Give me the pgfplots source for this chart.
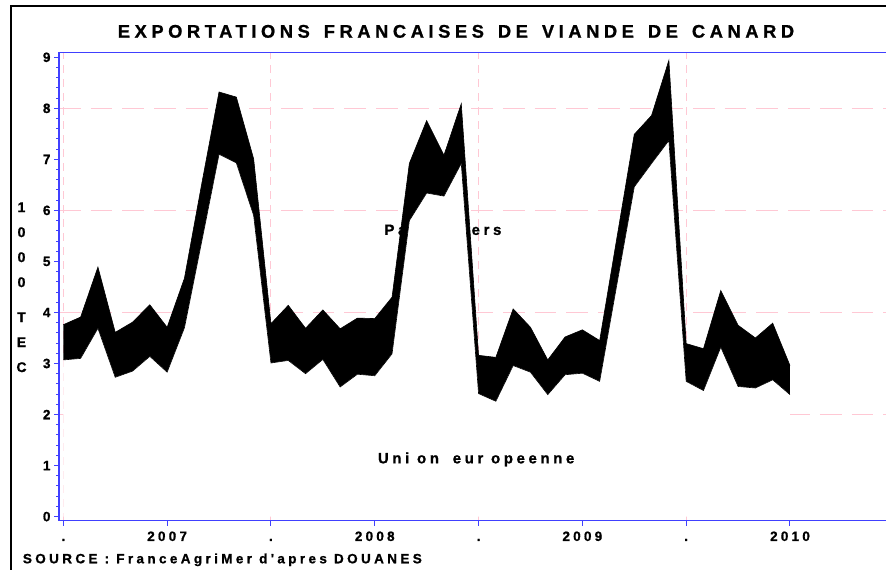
\documentclass[border=0pt]{standalone}
\usepackage{fontspec}
\setmainfont{Liberation Sans}
\newfontfamily\sastitle{Liberation Sans Bold}[LetterSpace=25,FakeBold=1]
\newfontfamily\sas{Liberation Sans Bold}[LetterSpace=24,FakeBold=1]
\usepackage{pgfplots}
\pgfplotsset{compat=1.18}
\usepackage{pgfplotstable}
\usepgfplotslibrary{fillbetween}
\definecolor{axisblue}{RGB}{64,64,255}
\definecolor{gridpink}{RGB}{255,200,212}

\pgfplotstableread{
i lo hi
0 3.07 3.76
1 3.10 3.91
2 3.69 4.89
3 2.73 3.61
4 2.85 3.81
5 3.14 4.15
6 2.83 3.71
7 3.70 4.67
8 5.39 6.52
9 7.10 8.32
10 6.93 8.22
11 5.90 7.01
12 3.01 3.78
13 3.06 4.14
14 2.80 3.69
15 3.08 4.05
16 2.54 3.68
17 2.79 3.89
18 2.76 3.88
19 3.19 4.30
20 5.80 6.92
21 6.34 7.76
22 6.28 7.08
23 6.92 8.09
24 2.41 3.16
25 2.26 3.12
26 2.96 4.07
27 2.83 3.71
28 2.39 3.07
29 2.78 3.52
30 2.81 3.66
31 2.65 3.45
32 4.56 5.47
33 6.46 7.49
34 6.92 7.86
35 7.37 8.94
36 2.65 3.39
37 2.47 3.29
38 3.32 4.43
39 2.55 3.75
40 2.52 3.50
41 2.68 3.79
42 2.39 2.96
}\duck

\begin{document}
\begin{tikzpicture}
\draw[line width=2pt] (11pt,-20pt) -- (11pt,564.3pt) -- (920pt,564.3pt);
\node[anchor=base, inner sep=0pt, font=\sastitle\fontsize{18.3}{20}\selectfont] at (456pt,532.3pt) {EXPORTATIONS\hspace{14pt}FRANCAISES\hspace{14pt}DE\hspace{14pt}VIANDE\hspace{14pt}DE\hspace{14pt}CANARD};
\node[anchor=base west, inner sep=0pt, font=\sas\fontsize{13.5}{15}\selectfont\addfontfeature{LetterSpace=25}] at (22.7pt,6.7pt) {SOURCE : FranceAgriMer d'apres DOUANES};
\node[align=center, inner sep=0pt, font=\sas\fontsize{14}{25}\selectfont] at (21.5pt,282.7pt) {1\\0\\0\\0\\[10pt]T\\E\\C};
\begin{axis}[name=ax, at={(59pt,49.3pt)}, anchor=south west, scale only axis,
  width=827pt, height=468.2pt,
  xmin=-0.25, xmax=47.55, ymin=-0.08, ymax=9.094,
  axis line style={draw=none},
  xtick={0,6,...,42}, xticklabels={.,2007,.,2008,.,2009,.,2010},
  ytick={0,...,9}, minor y tick num=4,
  xtick pos=bottom, ytick pos=left, tick align=outside,
  major tick length=5pt, minor tick length=3pt,
  tick style={axisblue, line width=1pt},
  extra x ticks={0,12,24,36}, extra x tick labels={},
  extra x tick style={major tick length=0pt, xmajorgrids=true,
    major grid style={gridpink, line width=1pt, dash pattern=on 8pt off 6pt}},
  extra y ticks={2,4,6,8}, extra y tick labels={},
  extra y tick style={major tick length=0pt, ymajorgrids=true,
    major grid style={gridpink, line width=1pt, dash pattern=on 21.7pt off 10pt}},
  ticklabel style={font=\sas\fontsize{13.5}{15}\selectfont},
  xticklabel style={text height=9.7pt, text depth=0pt, yshift=-2pt},
  /pgf/number format/assume math mode=true,
]
\addplot[draw=none, fill=white] table[x=i, y=lo] {\duck} \closedcycle;
\begin{pgfonlayer}{axis tick labels}
\node[anchor=base west, inner sep=0pt, font=\sas\fontsize{15}{17}\selectfont] at (axis cs:18.55,5.52) {Pays\hspace{25pt}tiers};
\end{pgfonlayer}
\addplot[name path=U, black, line width=0.6pt] table[x=i, y=hi] {\duck};
\addplot[name path=L, black, line width=0.6pt] table[x=i, y=lo] {\duck};
\addplot[black] fill between[of=U and L];
\node[anchor=center, inner sep=0pt, font=\sas\fontsize{15}{17}\selectfont] at (axis cs:23.86,1.12) {Uni on\hspace{6pt} eur opeenne};
\end{axis}
\draw[axisblue, line width=1.4pt] (ax.north east) -- (ax.north west) -- (ax.south west) -- (ax.south east);
\pgfresetboundingbox
\path[use as bounding box] (0,0) rectangle (886pt,570pt);
\end{tikzpicture}
\end{document}
